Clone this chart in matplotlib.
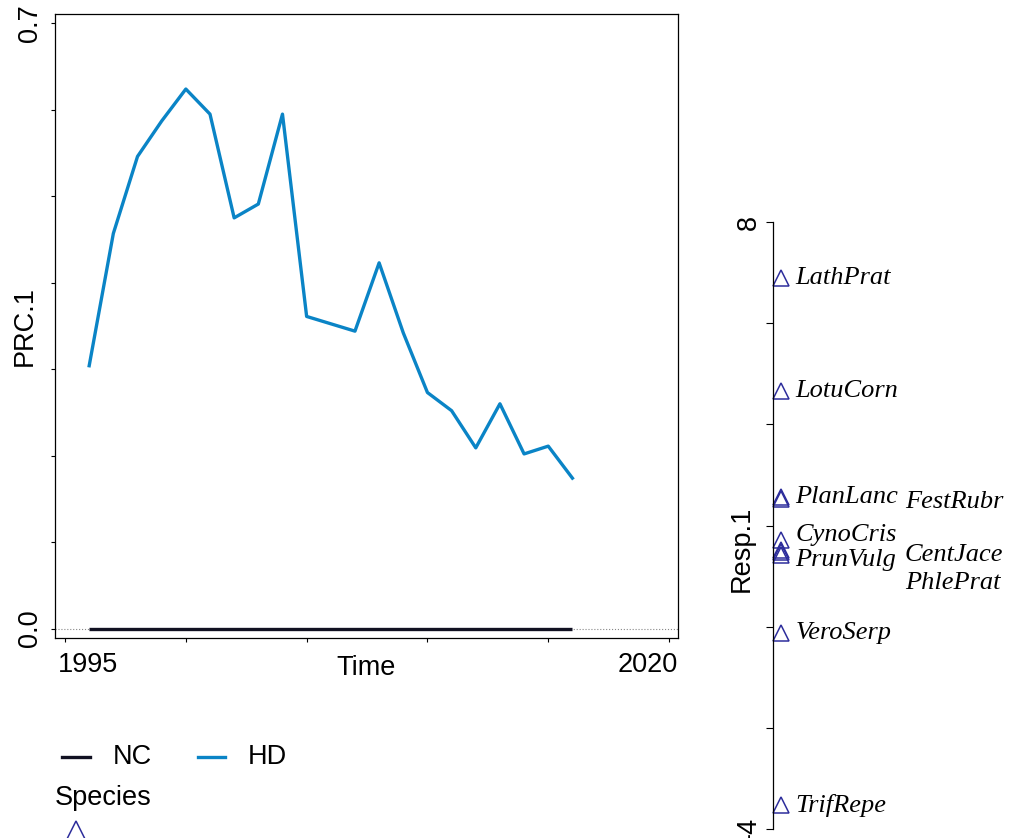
import matplotlib
matplotlib.use("Agg")
import matplotlib.pyplot as plt
from matplotlib.lines import Line2D
from matplotlib.transforms import ScaledTranslation
import numpy as np

# PRC.1 curves
years = [1996, 1997, 1998, 1999, 2000, 2001, 2002, 2003, 2004, 2005,
         2007, 2008, 2009, 2010, 2011, 2012, 2013, 2014, 2015, 2016]
hd = [0.304, 0.457, 0.546, 0.587, 0.624, 0.595, 0.475, 0.491, 0.595, 0.361,
      0.344, 0.423, 0.342, 0.273, 0.252, 0.209, 0.260, 0.202, 0.211, 0.174]
nc = [0.0] * len(years)

# species scores (Resp.1)
species = ["LathPrat", "LotuCorn", "PlanLanc", "FestRubr", "CynoCris",
           "PrunVulg", "CentJace", "PhlePrat", "VeroSerp", "TrifRepe"]
scores = [6.89, 4.66, 2.56, 2.52, 1.72, 1.48, 1.52, 1.42, -0.13, -3.53]

# label placement (column, vertical nudge) to keep labels apart
label_pos = {"FestRubr": (1, -0.05), "CynoCris": (0, 0.10), "PrunVulg": (0, -0.16),
             "CentJace": (1, -0.10), "PhlePrat": (1, -0.56)}

sans = "Liberation Sans"
fs = 19.5
blue = "#0a84c6"
navy = "#2d2d9c"

fig = plt.figure(figsize=(10.1, 8.38), dpi=100)
W, H = 1010, 838

# ---- PRC panel
ax = fig.add_axes([55 / W, 1 - 638 / H, 623 / W, 624 / H])
ax.axhline(0, color="#888888", lw=0.8, ls=":", zorder=1)
ax.plot(years, nc, color="#111122", lw=2.4, solid_capstyle="butt", zorder=3)
ax.plot(years, hd, color=blue, lw=2.4, zorder=3)
ax.set_xlim(1994.585, 2020.37)
ax.set_ylim(-0.0109, 0.7108)

ax.set_xticks(np.arange(1995, 2021, 5))
ax.set_xticklabels(["1995", "", "", "", "", "2020"], fontsize=fs, family=sans)
xt = ax.get_xticklabels()
xt[0].set_ha("left")
xt[-1].set_ha("right")
ax.set_yticks(np.arange(0, 0.71, 0.1))
ax.set_yticklabels(["0.0", "", "", "", "", "", "", "0.7"], fontsize=fs,
                   family=sans, rotation=90, va="center")
ax.tick_params(axis="both", direction="out", length=3, width=0.8)
ax.tick_params(axis="x", pad=7)
ax.tick_params(axis="y", pad=6)
for s in ax.spines.values():
    s.set_linewidth(0.9)
ax.set_xlabel("Time", fontsize=fs, family=sans)
ax.xaxis.set_label_coords(0.499, -0.028, transform=ax.transAxes)
ax.xaxis.label.set_va("top")
ax.set_ylabel("PRC.1", fontsize=fs, family=sans)
ax.yaxis.set_label_coords(-0.048, 0.5)
ax.yaxis.label.set_va("center")

# shift end labels inward like the original
xt = ax.get_xticklabels()
xt[0].set_transform(xt[0].get_transform() + ScaledTranslation(-7 / 100, 0, fig.dpi_scale_trans))
xt[-1].set_transform(xt[-1].get_transform() + ScaledTranslation(9 / 100, 0, fig.dpi_scale_trans))

# ---- species axis
ax2 = fig.add_axes([773 / W, 1 - 829 / H, 202 / W, 607 / H])
ax2.set_xlim(0, 1)
ax2.set_ylim(-4, 8)
for k in ["top", "right", "bottom"]:
    ax2.spines[k].set_visible(False)
ax2.spines["left"].set_linewidth(0.9)
ax2.patch.set_alpha(0)
ax2.set_xticks([])
ax2.set_yticks(np.arange(-4, 9, 2))
ax2.set_yticklabels(["-4", "", "", "", "", "", "8"], fontsize=fs, family=sans,
                    rotation=90, va="center")
ax2.tick_params(axis="y", direction="out", length=5, width=0.8, pad=3)
ax2.set_ylabel("Resp.1", fontsize=fs, family=sans)
ax2.yaxis.set_label_coords(-0.153, 0.461)
ax2.yaxis.label.set_va("center")

ax2.plot([0.04] * len(scores), scores, ls="none", marker="^", ms=12,
         mfc="none", mec=navy, mew=1.1, clip_on=False)
for name, sc in zip(species, scores):
    col, dy = label_pos.get(name, (0, 0.0))
    x = 0.11 if col == 0 else 0.653
    ax2.text(x, sc + dy, name, fontsize=19, family="Liberation Serif",
             style="italic", va="center", ha="left", clip_on=False)

# ---- legend
fig.add_artist(Line2D([62 / W, 90 / W], [1 - 757 / H] * 2, color="#111122", lw=2.4))
fig.add_artist(Line2D([198 / W, 225 / W], [1 - 757 / H] * 2, color=blue, lw=2.4))
fig.text(113 / W, 1 - 757 / H, "NC", fontsize=fs, family=sans, va="center")
fig.text(248 / W, 1 - 757 / H, "HD", fontsize=fs, family=sans, va="center")
fig.text(55 / W, 1 - 798 / H, "Species", fontsize=fs, family=sans, va="center")
fig.add_artist(Line2D([76 / W], [1 - 832 / H], ls="none", marker="^", ms=16,
                      mfc="none", mec=navy, mew=1.1))

fig.savefig("out.png", dpi=100)
